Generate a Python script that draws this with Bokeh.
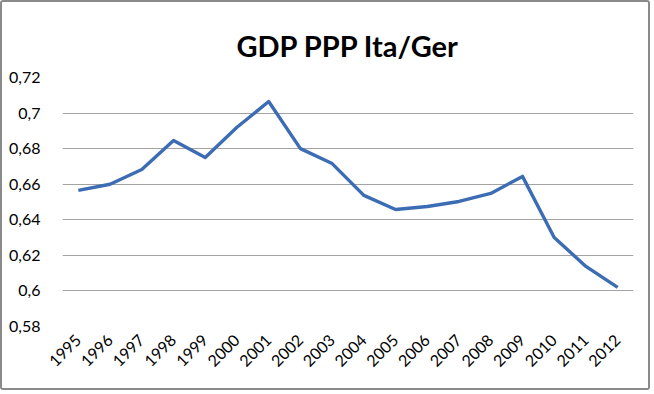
import math
from bokeh.plotting import figure
from bokeh.models import FixedTicker, Range1d, FactorRange
from bokeh.embed import file_html
from bokeh.resources import INLINE

title_text = "GDP PPP Ita/Ger"
years = [str(y) for y in range(1995, 2013)]
ratio = [0.6565, 0.660, 0.6683, 0.6846, 0.675, 0.692, 0.7065, 0.680, 0.6716,
         0.6537, 0.6458, 0.6475, 0.6503, 0.6548, 0.6644, 0.630, 0.6138, 0.602]
y_ticks = [0.58, 0.60, 0.62, 0.64, 0.66, 0.68, 0.70, 0.72]
y_tick_labels = ["0,58", "0,6", "0,62", "0,64", "0,66", "0,68", "0,7", "0,72"]

FONT = "Lato"

p = figure(width=650, height=390, x_range=FactorRange(*years),
           y_range=Range1d(0.58, 0.72), output_backend="svg",
           toolbar_location=None, title=title_text)
p.min_border_left = 60
p.min_border_right = 19
p.min_border_top = 75
p.min_border_bottom = 66
p.styles = {"border": "2px solid #8a8a8a", "border-radius": "3px"}

p.title.align = "center"
p.title.text_font = FONT
p.title.text_font_size = "29px"
p.title.text_font_style = "bold"
p.title.text_color = "#000000"
p.title.offset = 0
p.title.padding = 10

p.line(x=years, y=ratio, line_color="#3c6db4", line_width=3.4, line_join="round")

p.outline_line_color = None
p.background_fill_color = "white"
p.border_fill_color = "white"

p.xgrid.grid_line_color = None
p.ygrid.grid_line_color = "#a3a3a3"
p.ygrid.grid_line_width = 1.2
p.ygrid.ticker = FixedTicker(ticks=y_ticks)

p.yaxis.ticker = FixedTicker(ticks=y_ticks)
p.yaxis.major_label_overrides = {t: l for t, l in zip(y_ticks, y_tick_labels)}
p.yaxis.axis_line_color = None
p.yaxis.major_tick_line_color = None
p.yaxis.minor_tick_line_color = None
p.yaxis.major_label_standoff = 16
p.yaxis.major_label_text_font = FONT
p.yaxis.major_label_text_font_size = "16px"
p.yaxis.major_label_text_color = "#000000"

p.xaxis.axis_line_color = None
p.xaxis.major_tick_line_color = None
p.xaxis.major_label_orientation = math.pi / 4
p.xaxis.major_label_standoff = 5
p.xaxis.major_label_text_font = FONT
p.xaxis.major_label_text_font_size = "16px"
p.xaxis.major_label_text_color = "#000000"

open("out.html", "w").write(file_html(p, INLINE))
